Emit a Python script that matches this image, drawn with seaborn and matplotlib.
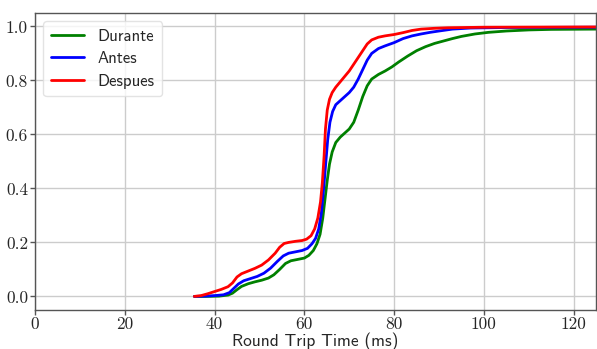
import matplotlib
matplotlib.use("Agg")
import matplotlib.pyplot as plt
import seaborn as sns
import pandas as pd

# Durante
durante_x = [35.5, 38, 41, 43, 44, 45, 46, 47.5, 49, 50.5, 52, 53.2, 54.5, 55.8, 57, 58.5, 60, 61, 62, 62.8,
             63.5, 64.1, 64.6, 65.1, 65.6, 66.2, 67, 68, 69, 70, 71, 72, 73, 74, 75, 76.5, 78, 79.5, 81, 83,
             85, 87, 89, 91, 93, 95, 98, 101, 105, 110, 115, 125]
durante_y = [0.0, 0.0, 0.001, 0.005, 0.012, 0.025, 0.037, 0.047, 0.054, 0.06, 0.068, 0.08, 0.10, 0.122,
             0.132, 0.137, 0.142, 0.152, 0.17, 0.195, 0.23, 0.29, 0.36, 0.43, 0.49, 0.535, 0.57, 0.59,
             0.605, 0.62, 0.645, 0.69, 0.74, 0.78, 0.805, 0.822, 0.835, 0.85, 0.868, 0.89, 0.91, 0.925,
             0.937, 0.946, 0.955, 0.963, 0.972, 0.978, 0.983, 0.987, 0.989, 0.99]
# Antes
antes_x = [35.5, 38, 40, 42, 43.3, 44.3, 45.3, 46.5, 48, 49.5, 51, 52.5, 54, 55.3, 56.5, 58, 59.5, 60.7,
           61.7, 62.5, 63.2, 63.8, 64.3, 64.8, 65.2, 65.7, 66.3, 67, 68, 69, 70, 71, 72, 73, 74, 75, 76.5,
           78, 80, 82, 84, 86, 88, 90, 93, 97, 105, 125]
antes_y = [0.0, 0.001, 0.003, 0.006, 0.014, 0.03, 0.046, 0.058, 0.066, 0.074, 0.086, 0.105, 0.13, 0.15,
           0.16, 0.165, 0.17, 0.178, 0.195, 0.215, 0.25, 0.31, 0.40, 0.50, 0.58, 0.645, 0.685, 0.71, 0.725,
           0.74, 0.755, 0.775, 0.805, 0.84, 0.875, 0.90, 0.918, 0.928, 0.94, 0.955, 0.965, 0.972, 0.978,
           0.983, 0.99, 0.994, 0.996, 0.997]
# Despues
despues_x = [35.5, 37, 38.5, 40, 41.5, 43, 44, 45, 46, 47.5, 49, 50.5, 52, 53.5, 54.5, 55.5, 56.5, 58, 59.5,
             60.5, 61.5, 62.3, 63, 63.6, 64, 64.4, 64.7, 65.1, 65.6, 66.2, 67, 68, 69, 70, 71, 72, 73, 74,
             75, 76.5, 78, 80, 82, 84, 86, 89, 92, 100, 125]
despues_y = [0.0, 0.003, 0.01, 0.018, 0.026, 0.036, 0.05, 0.072, 0.084, 0.094, 0.104, 0.116, 0.135, 0.16,
             0.182, 0.196, 0.20, 0.204, 0.207, 0.212, 0.225, 0.25, 0.29, 0.35, 0.42, 0.52, 0.62, 0.69, 0.73,
             0.755, 0.775, 0.795, 0.815, 0.835, 0.86, 0.885, 0.91, 0.935, 0.95, 0.96, 0.965, 0.97, 0.977,
             0.985, 0.99, 0.993, 0.995, 0.997, 0.998]

series_names = ["Durante", "Antes", "Despues"]
colors = ["green", "blue", "red"]
x_ticks = [0, 20, 40, 60, 80, 100, 120]
y_ticks = [0.0, 0.2, 0.4, 0.6, 0.8, 1.0]

frames = []
for name, xs, ys in zip(series_names, [durante_x, antes_x, despues_x], [durante_y, antes_y, despues_y]):
    frames.append(pd.DataFrame({"x": xs, "y": ys, "serie": name}))
df = pd.concat(frames, ignore_index=True)

sns.set_theme(style="ticks")
plt.rcParams["axes.formatter.use_mathtext"] = True

fig = plt.figure(figsize=(5.97, 3.49), dpi=100)
ax = fig.add_axes([0.0586, 0.112, 0.94, 0.851])

sns.lineplot(data=df, x="x", y="y", hue="serie", hue_order=series_names,
             palette=dict(zip(series_names, colors)), sort=False, estimator=None,
             linewidth=2, ax=ax)
for ln in ax.lines:
    ln.set_solid_joinstyle("round")

ax.set_xlim(0, 125)
ax.set_ylim(-0.05, 1.05)
ax.set_xticks(x_ticks)
ax.set_yticks(y_ticks)
ax.set_xticklabels([str(t) for t in x_ticks], fontfamily="cmr10", fontsize=12.5)
ax.set_yticklabels([f"{t:.1f}" for t in y_ticks], fontfamily="cmr10", fontsize=12.5)
ax.grid(True, color="#cccccc", linewidth=1)
ax.set_axisbelow(True)
for s in ax.spines.values():
    s.set_color("#555555")
    s.set_linewidth(1)
ax.tick_params(axis="both", length=3.5, width=1, color="#555555", pad=1.5)
ax.set_xlabel("Round Trip Time (ms)", fontfamily="cmss10", fontsize=12.5, labelpad=0)
ax.set_ylabel("")

leg = ax.legend(loc="upper left", prop={"family": "cmss10", "size": 12}, frameon=True,
                handlelength=2.0, borderpad=0.45, labelspacing=0.45)
leg.get_frame().set_edgecolor("#dddddd")

fig.savefig("out.png", dpi=100)
